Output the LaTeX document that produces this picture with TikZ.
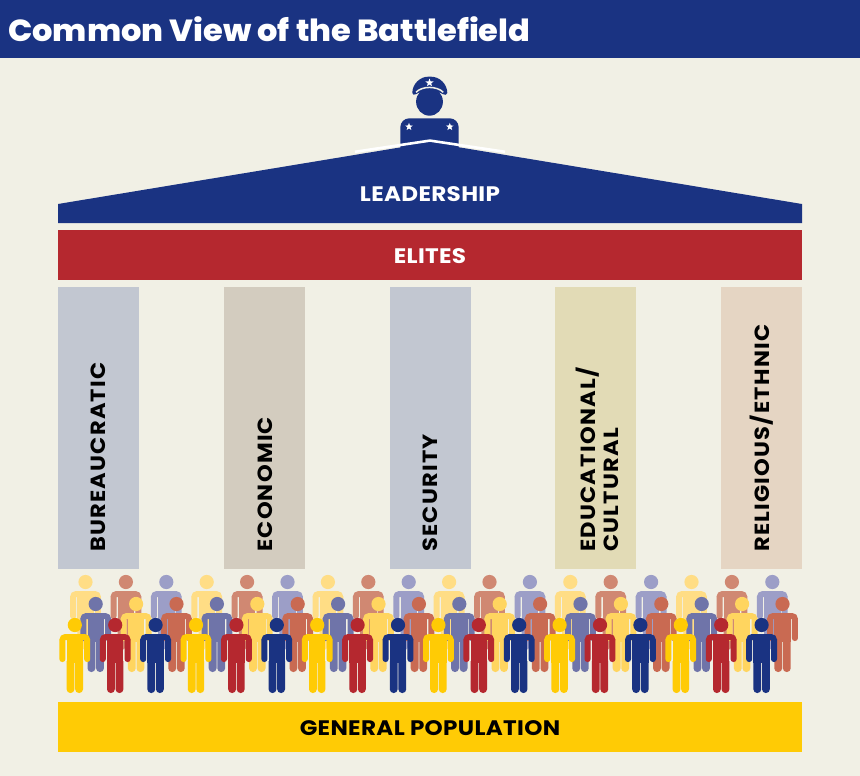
\documentclass[tikz,border=0pt]{standalone}
\usepackage{fontspec}
\setmainfont{Poppins}[BoldFont={* Bold},UprightFont={* Medium}]
\newfontfamily\titlefont{Poppins}[UprightFont={* ExtraBold},FakeStretch=1.05]
\newfontfamily\barfont{Poppins}[UprightFont={* Bold},FakeStretch=1.1,LetterSpace=1.5]
\newfontfamily\pilfont{Poppins}[UprightFont={* Bold},FakeStretch=1.1,LetterSpace=6]
\usetikzlibrary{shapes.geometric}
\definecolor{bgc}{HTML}{F1F0E5}
\definecolor{navy}{HTML}{1A3382}
\definecolor{crim}{HTML}{B5282F}
\definecolor{gold}{HTML}{FFCB05}
\definecolor{pslate}{HTML}{C2C7D1}
\definecolor{ptan}{HTML}{D3CCBF}
\definecolor{psand}{HTML}{E2DBB6}
\definecolor{ppeach}{HTML}{E5D5C3}
\definecolor{byel}{HTML}{FFDD85}
\definecolor{bred}{HTML}{D08872}
\definecolor{bblu}{HTML}{9C9EC7}
\definecolor{myel}{HTML}{FFD55F}
\definecolor{mred}{HTML}{C96A52}
\definecolor{mblu}{HTML}{6F74A9}
\tikzset{
  x=1pt,y=-1pt,
  bar/.style={fill=#1,draw=none,inner sep=0pt,minimum width=744pt,minimum height=49.5pt,anchor=north west},
  barlabel/.style={inner sep=0pt,text=#1,font=\barfont\fontsize{21}{21}\selectfont},
  pillar/.style={fill=#1,draw=none,inner sep=0pt,minimum width=81pt,minimum height=282pt,anchor=north west},
  pillartext/.style={rotate=90,anchor=west,align=left,inner sep=0pt,text=black,font=\pilfont\fontsize{20.5}{23.3}\selectfont},
  wstar/.style={star,star points=5,star point ratio=2.4,fill=white,draw=none,inner sep=0pt,minimum size=#1},
}
\newcommand{\person}[3]{%
  \begin{scope}[shift={(#1,#2)}]
    \fill[#3] (0,0) circle[radius=7.1pt];
    \fill[#3] (-15.4,15) [rounded corners=5.5pt] -- (-15.4,9) -- (15.4,9) [sharp corners] -- (15.4,15) -- cycle;
    \fill[#3] (-15.4,14.5) [rounded corners=2.8pt] -- (-15.4,37) -- (-9.4,37) [sharp corners] -- (-9.4,14.5) -- cycle;
    \fill[#3] (15.4,14.5) [rounded corners=2.8pt] -- (15.4,37) -- (9.4,37) [sharp corners] -- (9.4,14.5) -- cycle;
    \fill[#3] (-8.2,14) -- (-8.2,38) -- (8.2,38) -- (8.2,14) -- cycle;
    \fill[#3] (-8.2,36) [rounded corners=3.7pt] -- (-8.2,68) -- (-.4,68) [sharp corners] -- (-.4,36) -- cycle;
    \fill[#3] (8.2,36) [rounded corners=3.7pt] -- (8.2,68) -- (.4,68) [sharp corners] -- (.4,36) -- cycle;
  \end{scope}}
\begin{document}
\begin{tikzpicture}
\useasboundingbox (0,0) rectangle (860,776);
\fill[bgc] (0,0) rectangle (860,776);
\node[fill=navy,inner sep=0pt,minimum width=860pt,minimum height=58pt,anchor=north west] (header) at (0,0) {};
\node[anchor=west,inner sep=0pt,text=white,font=\titlefont\fontsize{30.5}{30.5}\selectfont] (title) at (8,29.5) {Common View of the Battlefield};
% commander
\fill[navy] (400.3,150) -- (400.3,130) [rounded corners=9pt] -- (400.3,118.3) -- (458.7,118.3) [sharp corners] -- (458.7,150) -- cycle;
\fill[navy] (429.5,101.7) ellipse[x radius=13.4pt,y radius=14pt];
\fill[navy,rounded corners=1.5pt] (412.3,94.5) .. controls (412.3,84) and (420,76.7) .. (429.7,76.7) .. controls (439.5,76.7) and (447.3,84) .. (447.3,94.5) -- (444,95) .. controls (438,90.5) and (421,90.5) .. (415,95) -- cycle;
\draw[bgc,line width=1.5pt] (416,92.3) .. controls (422,85.8) and (437,85.8) .. (443.3,92.3);
\node[wstar=8.5pt] (capstar) at (429.5,82.8) {};
\node[wstar=8pt] (lstar) at (409,126.8) {};
\node[wstar=8pt] (rstar) at (449.8,126.8) {};
% roof
\draw[white,line width=2.6pt] (355,151.8) -- (430,140.6) -- (505,151.8);
\fill[navy] (58,204) -- (430,142.5) -- (802,204) -- (802,223) -- (58,223) -- cycle;
\node[barlabel=white] (leadership) at (430,194.3) {LEADERSHIP};
% elites
\node[bar=crim] (elites) at (58,230) {};
\node[barlabel=white] (elitestext) at (430,256.3) {ELITES};
% pillars
\node[pillar=pslate] (p1) at (58,287) {};
\node[pillar=ptan] (p2) at (224,287) {};
\node[pillar=pslate] (p3) at (389.5,287) {};
\node[pillar=psand] (p4) at (555,287) {};
\node[pillar=ppeach] (p5) at (721,287) {};
\node[pillartext] (t1) at (98.5,552) {BUREAUCRATIC};
\node[pillartext] (t2) at (265,552) {ECONOMIC};
\node[pillartext] (t3) at (430.5,552) {SECURITY};
\node[pillartext] (t4) at (597,552) {EDUCATIONAL/\\CULTURAL};
\node[pillartext] (t5) at (762,552) {RELIGIOUS/ETHNIC};
% people
\foreach \i in {0,...,17}{
  \pgfmathtruncatemacro{\k}{mod(\i,3)}
  \pgfmathsetmacro{\xx}{85.5+40.4*\i}
  \ifcase\k \person{\xx}{582}{byel}\or \person{\xx}{582}{bred}\or \person{\xx}{582}{bblu}\fi
}
\foreach \i in {0,...,17}{
  \pgfmathtruncatemacro{\k}{mod(\i,3)}
  \pgfmathsetmacro{\xx}{95.7+40.4*\i}
  \ifcase\k \person{\xx}{604}{mblu}\or \person{\xx}{604}{myel}\or \person{\xx}{604}{mred}\fi
}
\foreach \i in {0,...,17}{
  \pgfmathtruncatemacro{\k}{mod(\i,3)}
  \pgfmathsetmacro{\xx}{74.8+40.4*\i}
  \ifcase\k \person{\xx}{625}{gold}\or \person{\xx}{625}{crim}\or \person{\xx}{625}{navy}\fi
}
% population
\node[bar=gold] (pop) at (58,702) {};
\node[barlabel=black] (poptext) at (430,728.5) {GENERAL POPULATION};
\end{tikzpicture}
\end{document}
